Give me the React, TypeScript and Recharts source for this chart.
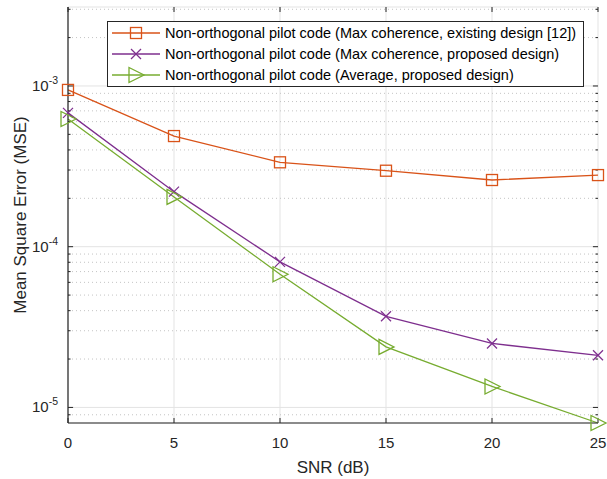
import React from 'react';
import {
  LineChart,
  Line,
  XAxis,
  YAxis,
  CartesianGrid,
  ReferenceLine,
} from 'recharts';

const snr = [0, 5, 10, 15, 20, 25];
const existingMax = [9.45e-4, 4.88e-4, 3.35e-4, 2.97e-4, 2.6e-4, 2.79e-4];
const proposedMax = [6.8e-4, 2.2e-4, 8.05e-5, 3.69e-5, 2.5e-5, 2.11e-5];
const proposedAvg = [6.23e-4, 2.04e-4, 6.74e-5, 2.38e-5, 1.35e-5, 8.0e-6];

const seriesNames = [
  'Non-orthogonal pilot code (Max coherence, existing design [12])',
  'Non-orthogonal pilot code (Max coherence, proposed design)',
  'Non-orthogonal pilot code (Average, proposed design)',
];

const xTicks = [0, 5, 10, 15, 20, 25];
const yTicks = [1e-5, 1e-4, 1e-3];
const minorY = [
  9e-6, 2e-5, 3e-5, 4e-5, 5e-5, 6e-5, 7e-5, 8e-5, 9e-5,
  2e-4, 3e-4, 4e-4, 5e-4, 6e-4, 7e-4, 8e-4, 9e-4, 2e-3, 3e-3,
];
const yMin = 8e-6;
const yMax = 3.1e-3;

const ORANGE = '#D95319';
const PURPLE = '#7E2F8E';
const GREEN = '#77AC30';
const AXIS = '#262626';
const FONT = '"Liberation Sans", Arial, sans-serif';

const data = snr.map((s, i) => ({
  snr: s,
  a: existingMax[i],
  b: proposedMax[i],
  c: proposedAvg[i],
}));

const Square = (props: any) => {
  const { cx, cy } = props;
  if (cx == null || cy == null) return null;
  return <rect x={cx - 5.5} y={cy - 5.5} width={11} height={11} fill="none" stroke={ORANGE} strokeWidth={1.3} />;
};

const Cross = (props: any) => {
  const { cx, cy } = props;
  if (cx == null || cy == null) return null;
  const r = 5;
  return (
    <g stroke={PURPLE} strokeWidth={1.3}>
      <line x1={cx - r} y1={cy - r} x2={cx + r} y2={cy + r} />
      <line x1={cx - r} y1={cy + r} x2={cx + r} y2={cy - r} />
    </g>
  );
};

const Triangle = (props: any) => {
  const { cx, cy } = props;
  if (cx == null || cy == null) return null;
  return (
    <polygon
      points={`${cx - 7},${cy - 7.5} ${cx + 8},${cy} ${cx - 7},${cy + 7.5}`}
      fill="none"
      stroke={GREEN}
      strokeWidth={1.3}
    />
  );
};

const YTick = (props: any) => {
  const { x, y, payload } = props;
  const exp = Math.round(Math.log10(payload.value));
  return (
    <text x={x - 2} y={y + 5} textAnchor="end" fontSize={15} fill={AXIS} fontFamily={FONT}>
      <tspan>10</tspan>
      <tspan dy={-7} fontSize={10.5}>{exp}</tspan>
    </text>
  );
};

const legendRows = [
  { name: seriesNames[0], color: ORANGE, marker: 'square' },
  { name: seriesNames[1], color: PURPLE, marker: 'cross' },
  { name: seriesNames[2], color: GREEN, marker: 'triangle' },
];

const LegendBox = () => (
  <svg width={477} height={66} style={{ display: 'block', position: 'absolute', left: 107, top: 21 }}>
    <rect x={0.5} y={0.5} width={476} height={65} fill="#fff" stroke={AXIS} strokeWidth={1} />
    {legendRows.map((r, i) => {
      const cy = 12 + i * 21;
      const mx = 29;
      return (
        <g key={r.name}>
          <line x1={5} y1={cy} x2={53} y2={cy} stroke={r.color} strokeWidth={1.3} />
          {r.marker === 'square' && (
            <rect x={mx - 5.5} y={cy - 5.5} width={11} height={11} fill="none" stroke={r.color} strokeWidth={1.3} />
          )}
          {r.marker === 'cross' && (
            <g stroke={r.color} strokeWidth={1.3}>
              <line x1={mx - 5} y1={cy - 5} x2={mx + 5} y2={cy + 5} />
              <line x1={mx - 5} y1={cy + 5} x2={mx + 5} y2={cy - 5} />
            </g>
          )}
          {r.marker === 'triangle' && (
            <polygon
              points={`${mx - 7},${cy - 7.5} ${mx + 8},${cy} ${mx - 7},${cy + 7.5}`}
              fill="none"
              stroke={r.color}
              strokeWidth={1.3}
            />
          )}
          <text x={58} y={cy + 5} fontSize={14.5} fill="#000" fontFamily={FONT}>
            {r.name}
          </text>
        </g>
      );
    })}
  </svg>
);

// small inner tick marks like the MATLAB box
const tickLen = 0.2;
const logStep = (v: number, px: number) => v * Math.pow(10, px / 160.5);

export default function App() {
  return (
    <div style={{ position: 'absolute', left: 0, top: 0, width: 607, height: 479, background: '#fff' }}>
      <LineChart
        width={607}
        height={479}
        data={data}
        margin={{ top: 7, right: 9, bottom: 0, left: 0 }}
        style={{ fontFamily: FONT }}
      >
        <CartesianGrid stroke="#e3e3e3" strokeWidth={1} />
        {minorY.map((v) => (
          <ReferenceLine key={`m${v}`} y={v} stroke="#c4c4c4" strokeDasharray="1 3" strokeWidth={1} />
        ))}
        {[...yTicks, ...minorY].map((v) => {
          const major = yTicks.includes(v);
          const len = major ? tickLen * 1.2 : tickLen * 0.6;
          return (
            <React.Fragment key={`t${v}`}>
              <ReferenceLine segment={[{ x: 0, y: v }, { x: len, y: v }]} stroke={AXIS} />
              <ReferenceLine segment={[{ x: 25 - len, y: v }, { x: 25, y: v }]} stroke={AXIS} />
            </React.Fragment>
          );
        })}
        {xTicks.map((v) => (
          <React.Fragment key={`x${v}`}>
            <ReferenceLine segment={[{ x: v, y: yMin }, { x: v, y: logStep(yMin, 5) }]} stroke={AXIS} />
            <ReferenceLine segment={[{ x: v, y: logStep(yMax, -5) }, { x: v, y: yMax }]} stroke={AXIS} />
          </React.Fragment>
        ))}
        <XAxis
          dataKey="snr"
          type="number"
          domain={[0, 25]}
          ticks={xTicks}
          tickLine={false}
          axisLine={{ stroke: AXIS, strokeWidth: 1.2 }}
          tick={{ fontSize: 15, fill: AXIS, fontFamily: FONT }}
          tickMargin={8}
          height={56}
          label={{ value: 'SNR (dB)', position: 'insideBottom', offset: 6, fontSize: 17, fill: AXIS, fontFamily: FONT }}
        />
        <XAxis
          xAxisId="top"
          orientation="top"
          dataKey="snr"
          type="number"
          domain={[0, 25]}
          tick={false}
          tickLine={false}
          height={0}
          axisLine={{ stroke: AXIS, strokeWidth: 1.2 }}
        />
        <YAxis
          scale="log"
          domain={[yMin, yMax]}
          ticks={yTicks}
          tickLine={false}
          axisLine={{ stroke: AXIS, strokeWidth: 1.2 }}
          tick={<YTick />}
          width={68}
          label={{
            value: 'Mean Square Error (MSE)',
            angle: -90,
            position: 'insideLeft',
            offset: 20,
            style: { textAnchor: 'middle', fontSize: 17, fill: AXIS, fontFamily: FONT },
          }}
        />
        <YAxis
          yAxisId="right"
          orientation="right"
          scale="log"
          domain={[yMin, yMax]}
          tick={false}
          tickLine={false}
          width={0}
          axisLine={{ stroke: AXIS, strokeWidth: 1.2 }}
        />
        <Line
          dataKey="a"
          name={seriesNames[0]}
          stroke={ORANGE}
          strokeWidth={1.3}
          dot={<Square />}
          isAnimationActive={false}
        />
        <Line
          dataKey="b"
          name={seriesNames[1]}
          stroke={PURPLE}
          strokeWidth={1.3}
          dot={<Cross />}
          isAnimationActive={false}
        />
        <Line
          dataKey="c"
          name={seriesNames[2]}
          stroke={GREEN}
          strokeWidth={1.3}
          dot={<Triangle />}
          isAnimationActive={false}
        />
      </LineChart>
      <LegendBox />
    </div>
  );
}
